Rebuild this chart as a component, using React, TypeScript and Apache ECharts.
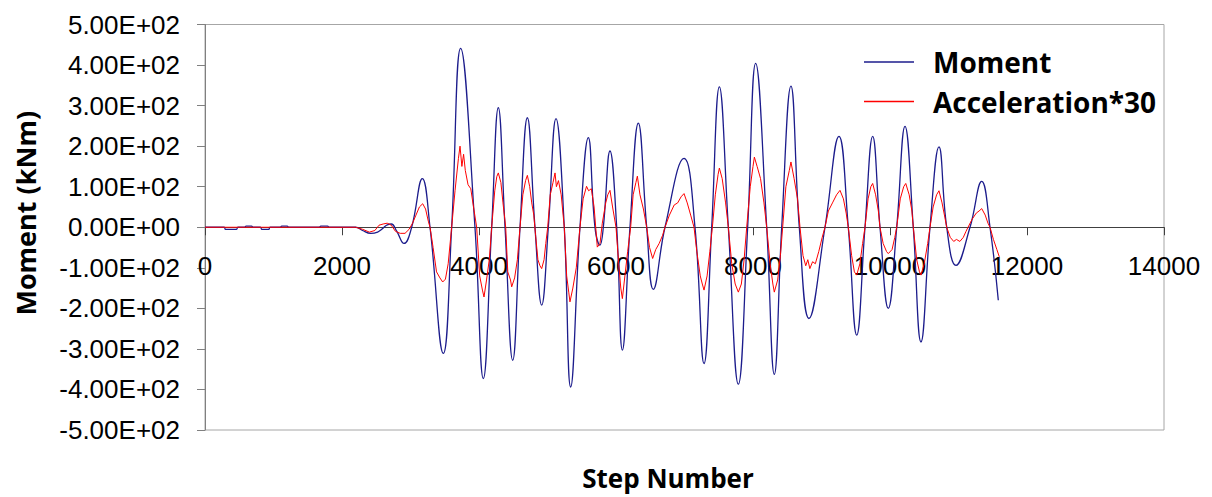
import React, { useEffect, useRef } from "react";
import * as echarts from "echarts";

// Step numbers and Moment values (kNm)
const momentSteps = [
  0, 280, 300, 460, 480, 580, 600, 680, 700, 810, 830, 930, 950, 1100, 1120, 1200, 1220,
  1670, 1690, 1790, 1810, 2200, 2300, 2420, 2520, 2580, 2650, 2720, 2800, 2905, 3017,
  3173, 3285, 3479, 3601, 3732, 3941, 4063, 4185, 4282, 4380, 4492, 4599, 4706, 4817,
  4915, 5012, 5124, 5245, 5338, 5474, 5596, 5693, 5766, 5815, 5912, 6010, 6093, 6204,
  6326, 6448, 6545, 6715, 6993, 7153, 7285, 7397, 7509, 7640, 7786, 7922, 8039, 8200,
  8311, 8419, 8554, 8676, 8817, 9051, 9255, 9391, 9514, 9635, 9747, 9854, 9975, 10098,
  10219, 10340, 10452, 10584, 10715, 10828, 10963, 11168, 11339, 11460, 11581,
];
const momentValues = [
  0, 0, -5, -5, 0, 0, 3, 3, 0, 0, -5, -5, 0, 0, 3, 3, 0,
  0, 3, 3, 0, 0, -8, -15, -12, -5, 5, 8, -10, -40, 0,
  120, 0, -311, 0, 441, 0, -373, 0, 295, 0, -328, 0, 270, 0,
  -192, 0, 268, 0, -394, 0, 221, 0, -44, 0, 188, 0, -303, 0,
  257, 0, -153, 0, 170, 0, -336, 0, 346, 0, -387, 0, 404, 0,
  -363, 0, 348, 0, -225, 0, 224, 0, -266, 0, 224, 0, -200, 0,
  249, 0, -283, 0, 198, 0, -94, 0, 113, 0, -180,
];

// Step numbers and Acceleration*30 values
const accelSteps = [
  0, 2200, 2300, 2400, 2480, 2540, 2600, 2660, 2720, 2780, 2850, 2920, 2980, 3030, 3080,
  3130, 3178, 3220, 3260, 3285, 3330, 3380, 3430, 3470, 3510, 3550, 3601, 3650, 3700,
  3723, 3750, 3775, 3800, 3840, 3880, 3920, 3966, 4010, 4050, 4073, 4110, 4150, 4185,
  4230, 4260, 4282, 4320, 4350, 4390, 4420, 4460, 4477, 4520, 4560, 4599, 4640, 4680,
  4706, 4740, 4770, 4800, 4826, 4860, 4890, 4915, 4950, 4975, 5003, 5040, 5080, 5110,
  5130, 5160, 5200, 5245, 5280, 5310, 5328, 5370, 5420, 5474, 5520, 5570, 5600, 5640,
  5680, 5727, 5766, 5800, 5850, 5880, 5912, 5950, 6000, 6040, 6070, 6093, 6130, 6170,
  6214, 6250, 6290, 6312, 6350, 6400, 6448, 6490, 6535, 6580, 6630, 6680, 6715, 6780,
  6850, 6900, 6950, 6993, 7040, 7090, 7139, 7180, 7230, 7260, 7285, 7330, 7370, 7407,
  7450, 7490, 7509, 7550, 7600, 7640, 7690, 7740, 7786, 7830, 7870, 7908, 7960, 8000,
  8020, 8060, 8110, 8160, 8200, 8250, 8290, 8311, 8360, 8400, 8433, 8480, 8530, 8554,
  8600, 8650, 8686, 8730, 8770, 8800, 8830, 8870, 8910, 8960, 9010, 9051, 9100, 9160,
  9220, 9270, 9320, 9360, 9391, 9440, 9480, 9514, 9560, 9600, 9635, 9680, 9720, 9747,
  9790, 9830, 9854, 9900, 9950, 9975, 10030, 10070, 10098, 10150, 10200, 10230, 10280,
  10320, 10340, 10390, 10430, 10452, 10500, 10550, 10584, 10630, 10680, 10715, 10760,
  10800, 10828, 10880, 10930, 10970, 11020, 11070, 11110, 11139, 11200, 11260, 11300,
  11339, 11390, 11430, 11460, 11510, 11560, 11596,
];
const accelValues = [
  0, 0, -5, -12, -8, 5, 8, 10, 5, -10, -15, -15, -5, 10, 30,
  50, 58, 45, 15, 0, -50, -110, -125, -135, -128, -90, 0, 90, 170,
  200, 150, 180, 140, 105, 95, 50, 0, -120, -155, -172, -130, -80, 0,
  90, 125, 134, 110, 60, 0, -110, -130, -147, -125, -80, 0, 80, 115,
  128, 100, 60, 30, -20, -80, -95, -102, -80, -40, 0, 80, 110, 134,
  100, 115, 80, 0, -120, -160, -184, -150, -100, 0, 70, 101, 90, 95,
  50, -49, -40, 10, 60, 80, 91, 50, 0, -90, -150, -176, -120, -60,
  0, 80, 110, 126, 80, 45, 0, -50, -77, -55, -40, -20, 0, 30,
  55, 60, 75, 83, 60, 30, 0, -60, -120, -140, -155, -120, -60, 0,
  80, 130, 146, 120, 60, 0, -90, -140, -160, -140, -80, 0, 100, 150,
  173, 150, 120, 60, 0, -90, -140, -160, -130, -70, 0, 100, 140, 161,
  120, 70, 0, -70, -95, -80, -102, -85, -90, -60, -25, 0, 40, 60,
  80, 91, 70, 35, 0, -70, -110, -118, -90, -40, 0, 70, 100, 108,
  80, 40, 0, -40, -60, -65, -55, -25, 0, 70, 100, 108, 80,
  40, 0, -80, -110, -118, -90, -40, 0, 50, 80, 90, 60,
  25, 0, -25, -35, -30, -35, -25, -10, 0, 20, 35, 40,
  46, 30, 10, 0, -30, -55, -73,
];

const seriesNames = ["Moment", "Acceleration*30"];
const xTicks = { min: 0, max: 14000, interval: 2000 };
const yTicks = { min: -500, max: 500, interval: 100 };

const sci = (v: number) => {
  if (v === 0) return "0.00E+00";
  const e = Math.floor(Math.log10(Math.abs(v)) + 1e-9);
  const m = v / Math.pow(10, e);
  return m.toFixed(2) + "E" + (e < 0 ? "-" : "+") + String(Math.abs(e)).padStart(2, "0");
};

export default function App() {
  const ref = useRef<HTMLDivElement>(null);
  useEffect(() => {
    if (!ref.current) return;
    const chart = echarts.init(ref.current, null, { renderer: "svg" });
    const labelFont = "'Liberation Sans', Arial, sans-serif";
    const boldFont = "'Open Sans', 'Noto Sans', sans-serif";
    const gridTop = 24.5;
    const gridBottom = 67;
    const plotH = 497 - gridTop - gridBottom;
    chart.setOption({
      animation: false,
      backgroundColor: "#ffffff",
      grid: {
        left: 205,
        right: 48,
        top: gridTop,
        bottom: gridBottom,
        show: true,
        borderColor: "#a6a6a6",
        borderWidth: 1,
        backgroundColor: "transparent",
        containLabel: false,
        outerBoundsMode: "none",
      },
      legend: {
        orient: "vertical",
        left: 864,
        top: 47,
        padding: 0,
        itemWidth: 50,
        itemHeight: 1.5,
        itemGap: 9.5,
        icon: "rect",
        data: seriesNames,
        textStyle: {
          fontFamily: boldFont,
          fontWeight: "bold",
          fontSize: 28,
          color: "#000",
          lineHeight: 30,
          padding: [0, 0, 0, 14],
        },
      },
      xAxis: {
        type: "value",
        min: xTicks.min,
        max: xTicks.max,
        interval: xTicks.interval,
        position: "bottom",
        offset: -plotH / 2,
        name: "Step Number",
        nameLocation: "middle",
        nameGap: 238,
        nameMoveOverlap: false,
        nameTextStyle: {
          fontFamily: boldFont,
          fontWeight: "bold",
          fontSize: 26,
          lineHeight: 26,
          color: "#000",
          padding: [0, 33, 0, 0],
        },
        axisLine: { show: true, onZero: false, lineStyle: { color: "#404040", width: 1 } },
        axisTick: { show: true, length: 8, lineStyle: { color: "#404040" } },
        axisLabel: {
          fontFamily: labelFont,
          fontSize: 26,
          color: "#000",
          margin: 26,
          showMinLabel: true,
          showMaxLabel: true,
          formatter: (v: number) => String(v),
        },
        splitLine: { show: false },
      },
      yAxis: {
        type: "value",
        min: yTicks.min,
        max: yTicks.max,
        interval: yTicks.interval,
        name: "Moment (kNm)",
        nameLocation: "middle",
        nameGap: 166,
        nameTextStyle: {
          fontFamily: boldFont,
          fontWeight: "bold",
          fontSize: 27,
          color: "#000",
          padding: [0, 0, 0, 28],
        },
        axisLine: { show: true, onZero: false, lineStyle: { color: "#808080", width: 1 } },
        axisTick: { show: true, length: 8, lineStyle: { color: "#808080" } },
        axisLabel: {
          fontFamily: labelFont,
          fontSize: 26,
          color: "#000",
          margin: 25,
          formatter: (v: number) => sci(v),
        },
        splitLine: { show: false },
      },
      series: [
        {
          name: seriesNames[0],
          type: "line",
          data: momentSteps.map((s, i) => [s, momentValues[i]]),
          symbol: "none",
          smooth: 0.45,
          lineStyle: { color: "#1c1c8c", width: 1.3 },
          itemStyle: { color: "#1c1c8c" },
          z: 2,
        },
        {
          name: seriesNames[1],
          type: "line",
          data: accelSteps.map((s, i) => [s, accelValues[i]]),
          symbol: "none",
          smooth: false,
          lineStyle: { color: "#ff0000", width: 1 },
          itemStyle: { color: "#ff0000" },
          z: 3,
        },
      ],
    });
    return () => chart.dispose();
  }, []);
  return (
    <div
      ref={ref}
      style={{ position: "fixed", left: 0, top: 0, width: 1212, height: 497, background: "#fff" }}
    />
  );
}
